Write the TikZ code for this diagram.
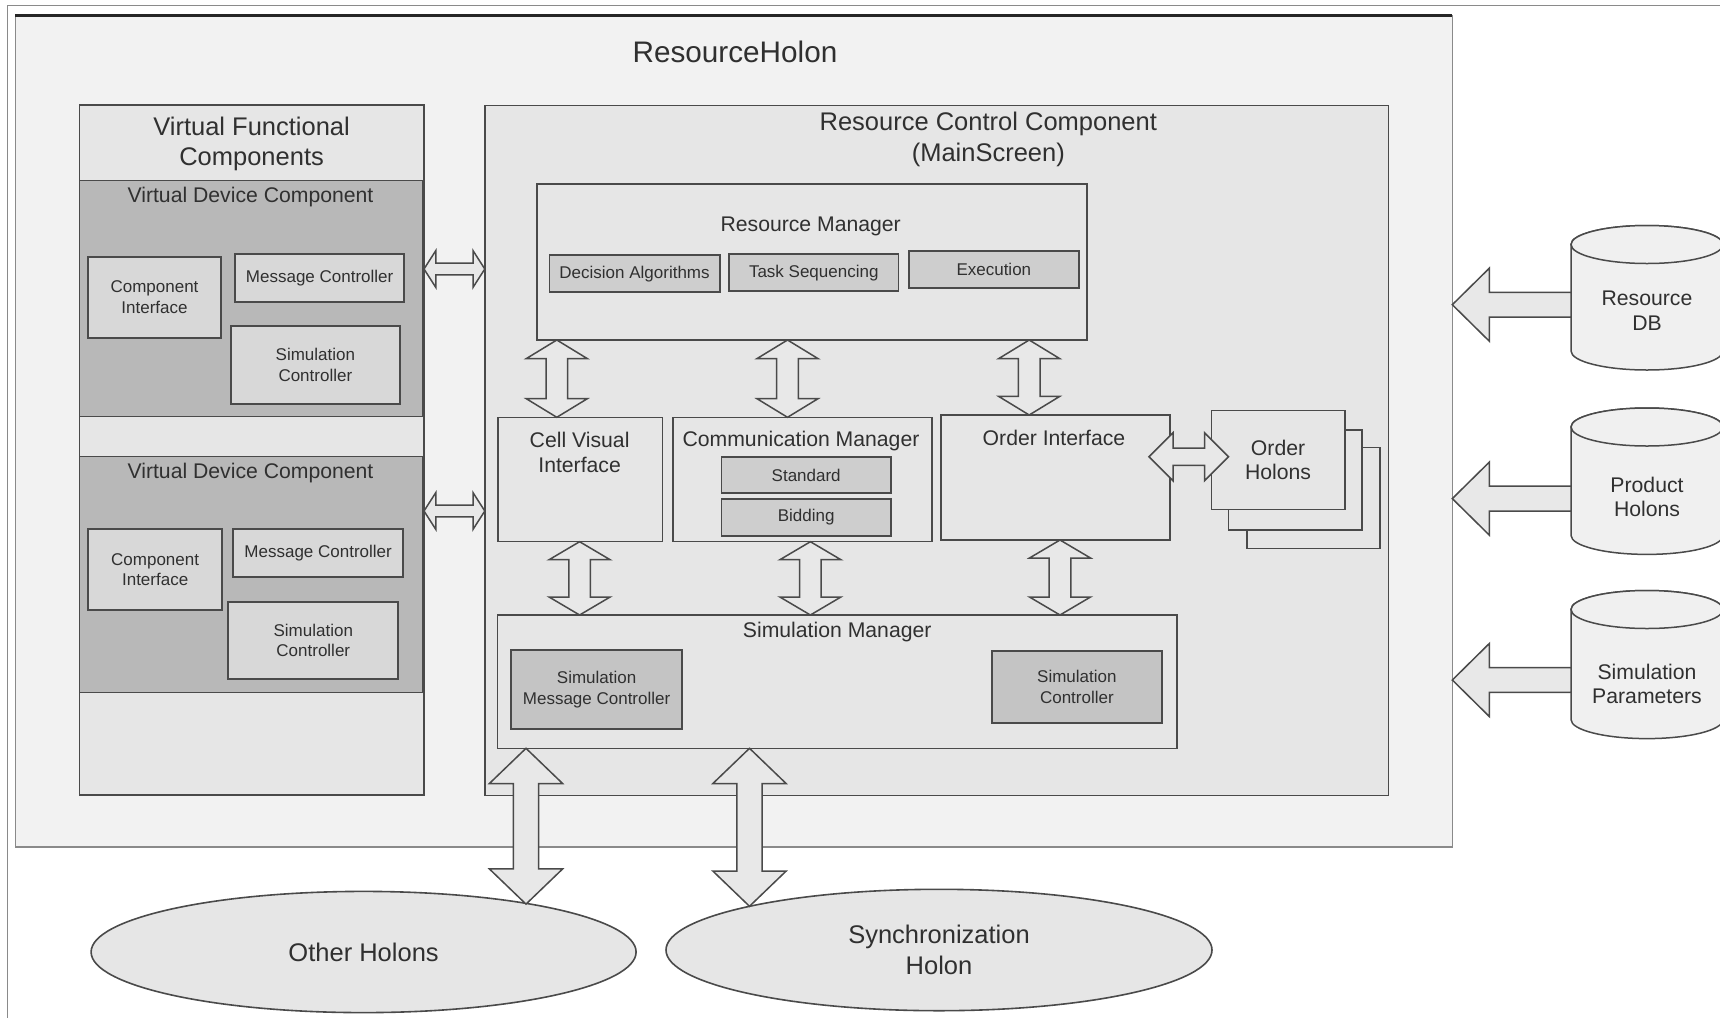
\documentclass[tikz,border=0pt]{standalone}
\usepackage{fontspec}
\setmainfont{Liberation Sans}
\usetikzlibrary{shapes.geometric,calc}
\definecolor{txt}{HTML}{303030}
\definecolor{ln}{HTML}{4A4A4A}
\definecolor{rhfill}{HTML}{F2F2F2}
\definecolor{panel}{HTML}{E6E6E6}
\definecolor{vdcfill}{HTML}{B8B8B8}
\definecolor{lightdot}{HTML}{D8D8D8}
\definecolor{middot}{HTML}{CECECE}
\definecolor{darkdot}{HTML}{C4C4C4}
\definecolor{cylfill}{HTML}{F0F0F0}
\definecolor{framecol}{HTML}{8A8A8A}
\definecolor{arrfill}{HTML}{E8E8E8}

% box node from corners (px), with text
\newcommand{\boxat}[7]{\node[#2, minimum width={(#5-#3)*0.5pt}, minimum height={(#6-#4)*0.5pt}] (#1) at ({(#3+#5)/2},{(#4+#6)/2}) {#7};}

% vertical double block arrow: top, bottom, head half-width, shaft half-width, head length
\newcommand{\vdarrow}[5]{\path[blockarrow] let \p1=(#1), \p2=(#2) in
  (\x1,\y1) -- (\x1+#3,\y1-#5) -- (\x1+#4,\y1-#5) -- (\x2+#4,\y2+#5) -- (\x2+#3,\y2+#5) -- (\x2,\y2)
  -- (\x2-#3,\y2+#5) -- (\x2-#4,\y2+#5) -- (\x1-#4,\y1-#5) -- (\x1-#3,\y1-#5) -- cycle;}
% horizontal double block arrow: left, right, head half-height, shaft half-height, head length
\newcommand{\hdarrow}[5]{\path[blockarrow] let \p1=(#1), \p2=(#2) in
  (\x1,\y1) -- (\x1+#5,\y1+#3) -- (\x1+#5,\y1+#4) -- (\x2-#5,\y2+#4) -- (\x2-#5,\y2+#3) -- (\x2,\y2)
  -- (\x2-#5,\y2-#3) -- (\x2-#5,\y2-#4) -- (\x1+#5,\y1-#4) -- (\x1+#5,\y1-#3) -- cycle;}
% single left block arrow: tip (left), tail (right)
\newcommand{\larrow}[5]{\path[blockarrow] let \p1=(#1), \p2=(#2) in
  (\x1,\y1) -- (\x1+#5,\y1+#3) -- (\x1+#5,\y1+#4) -- (\x2,\y2+#4) -- (\x2,\y2-#4)
  -- (\x1+#5,\y1-#4) -- (\x1+#5,\y1-#3) -- cycle;}
% cylinder: cx, top-ellipse centre y, bottom-ellipse centre y (px)
\newcommand{\cyl}[3]{%
  \path[draw=ln, fill=cylfill, line width=0.75pt] ({#1-76},#2) -- ({#1-76},#3)
    arc[start angle=180, end angle=360, x radius=38pt, y radius=9.5pt] -- ({#1+76},#2)
    arc[start angle=0, end angle=180, x radius=38pt, y radius=9.5pt] -- cycle;
  \draw[draw=ln, fill=cylfill, line width=0.75pt] (#1,#2) ellipse [x radius=38pt, y radius=9.5pt];}

\begin{document}
\begin{tikzpicture}[x=0.5pt,y=-0.5pt,
  every node/.style={text=txt, inner sep=0pt, outer sep=0pt},
  ftitle/.style={font=\fontsize{14.85}{17}\selectfont},
  fbig/.style={font=\fontsize{12.75}{15.3}\selectfont, align=center},
  fmed/.style={font=\fontsize{10.6}{12.4}\selectfont, align=center},
  fsml/.style={font=\fontsize{8.5}{10.1}\selectfont, align=center},
  box/.style={draw=ln, line width=0.75pt, rectangle, align=center},
  panelbox/.style={box, fill=panel},
  vdcbox/.style={box, fill=vdcfill},
  lightbox/.style={box, fill=lightdot, line width=0.9pt, fsml},
  midbox/.style={box, fill=middot, line width=0.9pt, fsml},
  darkbox/.style={box, fill=darkdot, line width=0.9pt, fsml},
  blockarrow/.style={draw=ln, fill=arrfill, line width=0.75pt, line join=miter},
  ellnode/.style={ellipse, draw=ln, fill=panel, line width=0.8pt, fbig, align=center}
]
\useasboundingbox (0,0) rectangle (1720,1018);
\fill[white] (0,0) rectangle (1720,1018);
\draw[framecol, line width=0.6pt] (7.5,1018) -- (7.5,5.5) -- (1720,5.5);

% ResourceHolon
\boxat{rh}{box, draw=framecol, fill=rhfill}{15.4}{15.4}{1452.3}{847}{}
\draw[black!85, line width=1.1pt] (rh.north west) -- (rh.north east);
\node[ftitle] (rhtitle) at (735,52) {ResourceHolon};

% Virtual Functional Components
\boxat{vfc}{panelbox}{79.3}{105}{424}{795}{}
\node[fbig] (vfct) at (251.6,144) {Virtual Functional\\Components};
\boxat{vdca}{vdcbox}{79.3}{180.7}{423}{416.7}{}
\node[fmed] (vdcat) at (250.5,197.3) {Virtual Device Component};
\boxat{cia}{lightbox}{88.3}{256.7}{220.7}{337.7}{Component\\Interface}
\boxat{mca}{lightbox}{235}{254}{404.3}{302.3}{Message Controller}
\boxat{sca}{lightbox}{230.7}{326}{400}{404}{Simulation\\Controller}
\boxat{vdcb}{vdcbox}{79.3}{456.7}{423}{692.3}{}
\node[fmed] (vdcbt) at (250.5,473.3) {Virtual Device Component};
\boxat{cib}{lightbox}{88}{529}{222.3}{610}{Component\\Interface}
\boxat{mcb}{lightbox}{233}{529}{403.3}{577.3}{Message Controller}
\boxat{scb}{lightbox}{228.3}{602.3}{398.3}{679.3}{Simulation\\Controller}

% Resource Control Component
\boxat{rcc}{panelbox}{484.8}{105.3}{1388.7}{795.3}{}
\node[fbig] (rcct) at (988.3,139.5) {Resource Control Component\\(MainScreen)};

\boxat{rm}{panelbox}{537.2}{184}{1087.2}{340}{}
\node[fmed] (rmt) at (810.7,226) {Resource Manager};
\boxat{da}{midbox}{549.4}{255}{719.7}{292.3}{Decision Algorithms}
\boxat{ts}{midbox}{729}{254.3}{898.5}{291}{Task Sequencing}
\boxat{ex}{midbox}{908.7}{251}{1079}{288.3}{Execution}

\boxat{cvi}{panelbox}{497.8}{417.3}{662.7}{541.7}{}
\node[fmed] (cvit) at (579.6,452.5) {Cell Visual\\Interface};
\boxat{cm}{panelbox}{672.8}{417.3}{932}{541.7}{}
\node[fmed] (cmt) at (801,441) {Communication Manager};
\boxat{std}{midbox}{721.4}{457.3}{891}{493.3}{Standard}
\boxat{bid}{midbox}{721.4}{498.7}{891}{535.7}{Bidding}
\boxat{oi}{panelbox}{940.8}{415}{1169.8}{540}{}
\node[fmed] (oit) at (1054,438.3) {Order Interface};

\boxat{ohc}{panelbox}{1247}{447.3}{1379.8}{548.3}{}
\boxat{ohb}{panelbox}{1228.5}{430}{1362}{530}{}
\boxat{oha}{panelbox, fmed}{1211.3}{410.7}{1344.8}{509.3}{Order\\Holons}

\boxat{sm}{panelbox}{497.4}{615}{1177}{748.3}{}
\node[fmed] (smt) at (837.2,632.2) {Simulation Manager};
\boxat{smc}{darkbox}{511.2}{650}{682}{729.3}{Simulation\\Message Controller}
\boxat{sc}{darkbox}{992}{650.7}{1161.8}{723.3}{Simulation\\Controller}

% external holons
\node[ellnode, minimum width=272.5pt, minimum height=60.6pt] (ohol) at (363.6,952) {Other Holons};
\node[ellnode, minimum width=273pt, minimum height=60.7pt] (sync) at (939,950) {Synchronization\\Holon};

% databases
\cyl{1647}{244.5}{351}
\node[fmed] (rdb) at (1647,310.5) {Resource\\DB};
\cyl{1647}{427}{535.4}
\node[fmed] (phdb) at (1647,497) {Product\\Holons};
\cyl{1647}{609.5}{719.6}
\node[fmed] (spdb) at (1647,684) {Simulation\\Parameters};
\coordinate (rdbw) at (1571,304.7);
\coordinate (phdbw) at (1571,498.6);
\coordinate (spdbw) at (1571,680);

% arrows
\hdarrow{vfc.east |- 0,269}{rcc.west |- 0,269}{9.2pt}{2.9pt}{5.9pt}
\hdarrow{vfc.east |- 0,511}{rcc.west |- 0,511}{9.2pt}{2.9pt}{5.9pt}

\vdarrow{556.8,0 |- rm.south}{556.8,0 |- cvi.north}{15.25pt}{5.4pt}{9.3pt}
\vdarrow{787.5,0 |- rm.south}{787.5,0 |- cm.north}{15.25pt}{5.4pt}{9.3pt}
\vdarrow{1029.2,0 |- rm.south}{1029.2,0 |- oi.north}{15.25pt}{5.4pt}{9.3pt}

\vdarrow{579.6,0 |- cvi.south}{579.6,0 |- sm.north}{15.25pt}{5.4pt}{9pt}
\vdarrow{810.4,0 |- cm.south}{810.4,0 |- sm.north}{15.25pt}{5.4pt}{9pt}
\vdarrow{1060,0 |- oi.south}{1060,0 |- sm.north}{15.25pt}{5.4pt}{9pt}

\coordinate (oil) at (1149,456.7);
\hdarrow{oil}{ohb.west |- 0,456.7}{12pt}{4.3pt}{12pt}

\vdarrow{526,0 |- sm.south}{526,0 |- ohol.16.7}{18.3pt}{6.3pt}{17.6pt}
\vdarrow{749.5,0 |- sm.south}{749.5,0 |- sync.167}{18.3pt}{6.3pt}{17.6pt}

\larrow{rh.east |- 0,304.7}{rdbw}{18.25pt}{6.2pt}{18.5pt}
\larrow{rh.east |- 0,498.6}{phdbw}{18.25pt}{6.2pt}{18.5pt}
\larrow{rh.east |- 0,680}{spdbw}{18.25pt}{6.2pt}{18.5pt}
\end{tikzpicture}
\end{document}
